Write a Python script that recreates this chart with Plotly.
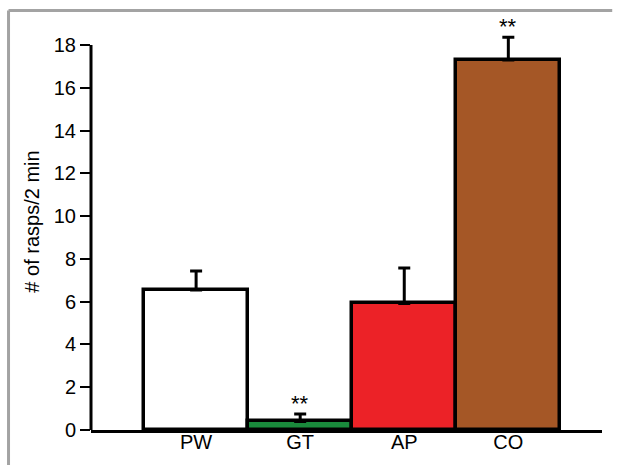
import plotly.graph_objects as go

categories = ["PW", "GT", "AP", "CO"]
means = [6.55, 0.4, 5.92, 17.3]
errors = [0.88, 0.35, 1.66, 1.07]
colors = ["#ffffff", "#1a8a3c", "#ec2227", "#a55726"]
significance = ["", "**", "", "**"]
y_ticks = [0, 2, 4, 6, 8, 10, 12, 14, 16, 18]

FONT = "Liberation Sans, Arial, sans-serif"

fig = go.Figure()
fig.add_trace(go.Bar(
    x=categories, y=means, width=1,
    marker=dict(color=colors, line=dict(color="black", width=3.5)),
    error_y=dict(type="data", symmetric=False, array=errors,
                 arrayminus=[0] * len(errors), color="black",
                 thickness=3, width=6),
    showlegend=False,
))

for c, m, e, s in zip(categories, means, errors, significance):
    if s:
        fig.add_annotation(x=c, y=m + e, text=s, showarrow=False,
                           yanchor="bottom", yshift=-4,
                           font=dict(family=FONT, size=22, color="black"))

# y axis line only up to top tick
fig.add_shape(type="line", xref="paper", yref="y", x0=0, x1=0, y0=0, y1=18,
              line=dict(color="black", width=3))

# grey outer frame (left and top edges)
fig.add_shape(type="line", xref="paper", yref="paper",
              x0=-0.1614, x1=-0.1614, y0=1.006, y1=-0.084,
              line=dict(color="#a3a3a3", width=3))
fig.add_shape(type="line", xref="paper", yref="paper",
              x0=-0.1614, x1=1.02, y0=1.006, y1=1.006,
              line=dict(color="#a3a3a3", width=3))

fig.update_layout(
    width=617, height=465,
    margin=dict(l=91, r=15, t=13, b=35, autoexpand=False),
    paper_bgcolor="white", plot_bgcolor="white",
    bargap=0,
    font=dict(family=FONT, size=20, color="black"),
    xaxis=dict(range=[-1.01, 3.9], showline=True, linecolor="black",
               linewidth=3, ticks="", showgrid=False, zeroline=False,
               automargin=False, tickfont=dict(size=20),
               ticklabelstandoff=-8),
    yaxis=dict(range=[0, 19.5], tickvals=y_ticks, ticks="outside",
               ticklen=10, tickwidth=2, tickcolor="black",
               showline=False, showgrid=False, zeroline=False,
               automargin=False, tickfont=dict(size=20),
               title=dict(text="# of rasps/2 min", font=dict(size=20),
                          standoff=8)),
)

fig.write_html("out.html")
